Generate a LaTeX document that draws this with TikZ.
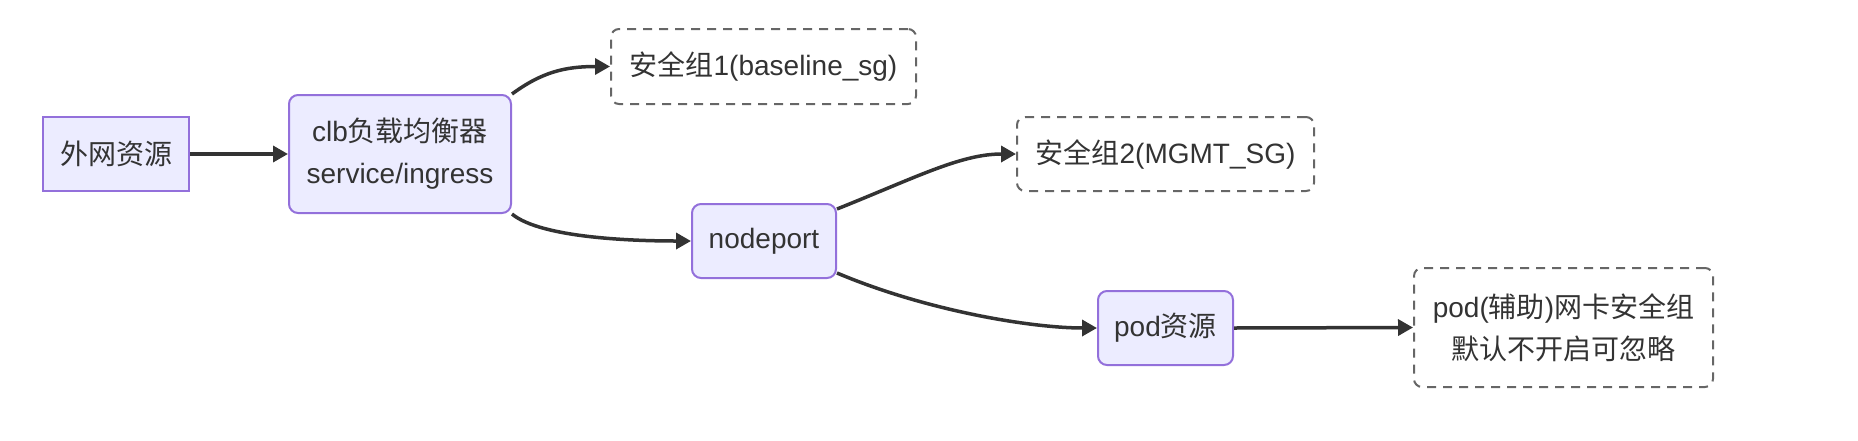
\documentclass[tikz,border=0pt]{standalone}
\usepackage{fontspec}
\setmainfont{Liberation Sans}
\newfontfamily\cjk{Noto Sans CJK SC}
\usetikzlibrary{arrows.meta}
\definecolor{nfill}{HTML}{ECECFF}
\definecolor{nbord}{HTML}{9370DB}
\definecolor{edgec}{HTML}{333333}
\definecolor{dbord}{HTML}{666666}
\definecolor{txt}{HTML}{333333}
\begin{document}
\begin{tikzpicture}[x=1pt,y=-1pt,
  font=\fontsize{28}{42}\selectfont,
  plainbox/.style={draw=nbord, fill=nfill, line width=2pt, inner sep=0pt, align=center, text=txt},
  roundbox/.style={plainbox, rounded corners=9pt},
  dashbox/.style={draw=dbord, fill=white, line width=2pt, dash pattern=on 9pt off 7pt, rounded corners=8pt, inner sep=0pt, align=center, text=txt},
  conn/.style={draw=edgec, line width=3.5pt, -{Triangle[length=15pt,width=16pt]}}]
\useasboundingbox (0,0) rectangle (1858,440);
\node[plainbox, minimum width=146pt, minimum height=74pt] (ext) at (116,154) {\cjk 外网资源};
\node[roundbox, minimum width=222pt, minimum height=118pt] (clb) at (400,154) {clb{\cjk 负载均衡器}\\service/ingress};
\node[dashbox, minimum width=305pt, minimum height=75pt] (sg1) at (763.5,66.5) {{\cjk 安全组}1(baseline\_sg)};
\node[roundbox, minimum width=144pt, minimum height=74pt] (np) at (764,241) {nodeport};
\node[dashbox, minimum width=297pt, minimum height=74pt] (sg2) at (1165.5,154) {{\cjk 安全组}2(MGMT\_SG)};
\node[roundbox, minimum width=135pt, minimum height=74pt] (pod) at (1165.5,328) {pod{\cjk 资源}};
\node[dashbox, minimum width=299pt, minimum height=119pt] (pod2) at (1563.5,327.5) {pod({\cjk 辅助})\kern0pt{\cjk 网卡安全组}\\{\cjk 默认不开启可忽略}};
\draw[conn] (ext.east) -- (clb.west);
\draw[conn] (clb.north east) .. controls +(30,-22) and +(-45,0) .. (sg1.west);
\draw[conn] (clb.south east) .. controls +(30,25) and +(-50,0) .. (np.west);
\draw[conn] ([yshift=-6pt]np.north east) .. controls +(80,-32) and +(-55,0) .. (sg2.west);
\draw[conn] ([yshift=6pt]np.south east) .. controls +(90,38) and +(-65,0) .. (pod.west);
\draw[conn] (pod.east) -- (pod2.west);
\end{tikzpicture}
\end{document}
